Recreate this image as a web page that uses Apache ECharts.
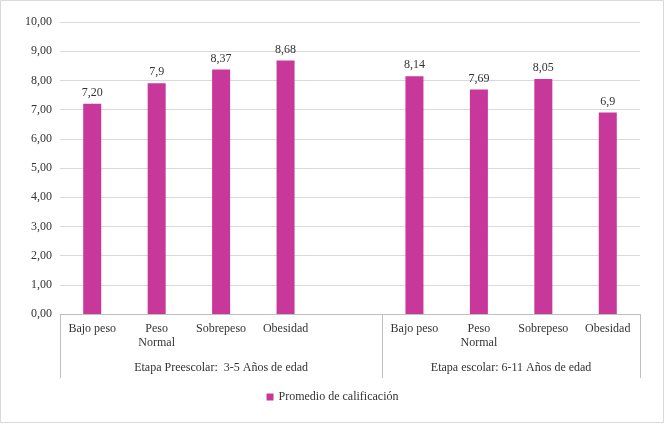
<!DOCTYPE html>
<html><head><meta charset="utf-8">
<script src="https://cdn.jsdelivr.net/npm/echarts@6/dist/echarts.min.js"></script>
<style>body{margin:0}#c{width:665px;height:424px}</style>
</head><body><div id="c"></div>
<script>
var categories = ['Bajo peso', 'Peso\nNormal', 'Sobrepeso', 'Obesidad', '', 'Bajo peso', 'Peso\nNormal', 'Sobrepeso', 'Obesidad'];
var values = [7.20, 7.9, 8.37, 8.68, null, 8.14, 7.69, 8.05, 6.9];
var labels = ['7,20', '7,9', '8,37', '8,68', '', '8,14', '7,69', '8,05', '6,9'];
var groups = ['Etapa Preescolar:  3-5 Años de edad', 'Etapa escolar: 6-11 Años de edad'];
var groupSpan = [[0, 5], [5, 9]];

var font = 'Liberation Serif';
var chart = echarts.init(document.getElementById('c'));
var option = {
    textStyle: {fontFamily: font},
    grid: {left: 60, right: 25, top: 22, bottom: 110},
    legend: {
        bottom: 16, left: 'center', icon: 'rect', itemWidth: 7, itemHeight: 7,
        textStyle: {fontFamily: font, fontSize: 12, color: '#333'},
        data: ['Promedio de calificación']
    },
    xAxis: {
        type: 'category', data: categories,
        axisLine: {lineStyle: {color: '#bfbfbf'}},
        axisTick: {show: false},
        axisLabel: {color: '#333', fontSize: 12, interval: 0, lineHeight: 14, margin: 8}
    },
    yAxis: {
        type: 'value', min: 0, max: 10, interval: 1,
        axisLine: {show: false}, axisTick: {show: false},
        axisLabel: {color: '#333', fontSize: 12, formatter: function (v) { return v.toFixed(2).replace('.', ','); }},
        splitLine: {lineStyle: {color: '#d9d9d9'}}
    },
    series: [{
        name: 'Promedio de calificación', type: 'bar', data: values, barWidth: 18,
        itemStyle: {color: '#C8379A'},
        label: {show: true, position: 'top', color: '#333', fontSize: 12, fontFamily: font,
            formatter: function (p) { return labels[p.dataIndex]; }}
    }]
};
chart.setOption(option);

// group separators and group labels, positioned from the axis scale
var y0 = chart.convertToPixel({gridIndex: 0}, [0, 0])[1];
var step = chart.convertToPixel({xAxisIndex: 0}, 1) - chart.convertToPixel({xAxisIndex: 0}, 0);
function edge(i) { return chart.convertToPixel({xAxisIndex: 0}, 0) + (i - 0.5) * step; }
var gfx = [
    {type: 'rect', shape: {x: 0.5, y: 0.5, width: 663, height: 422}, style: {fill: 'none', stroke: '#d9d9d9'}}
];
[0, 5, 9].forEach(function (i) {
    var x = Math.round(edge(i)) + 0.5;
    gfx.push({type: 'line', shape: {x1: x, y1: y0, x2: x, y2: y0 + 64}, style: {stroke: '#bfbfbf'}});
});
groups.forEach(function (g, k) {
    gfx.push({type: 'text', x: (edge(groupSpan[k][0]) + edge(groupSpan[k][1])) / 2, y: y0 + 48,
        style: {text: g, fill: '#333', font: '12px "Liberation Serif"', align: 'center'}});
});
chart.setOption({graphic: gfx});
</script></body></html>
